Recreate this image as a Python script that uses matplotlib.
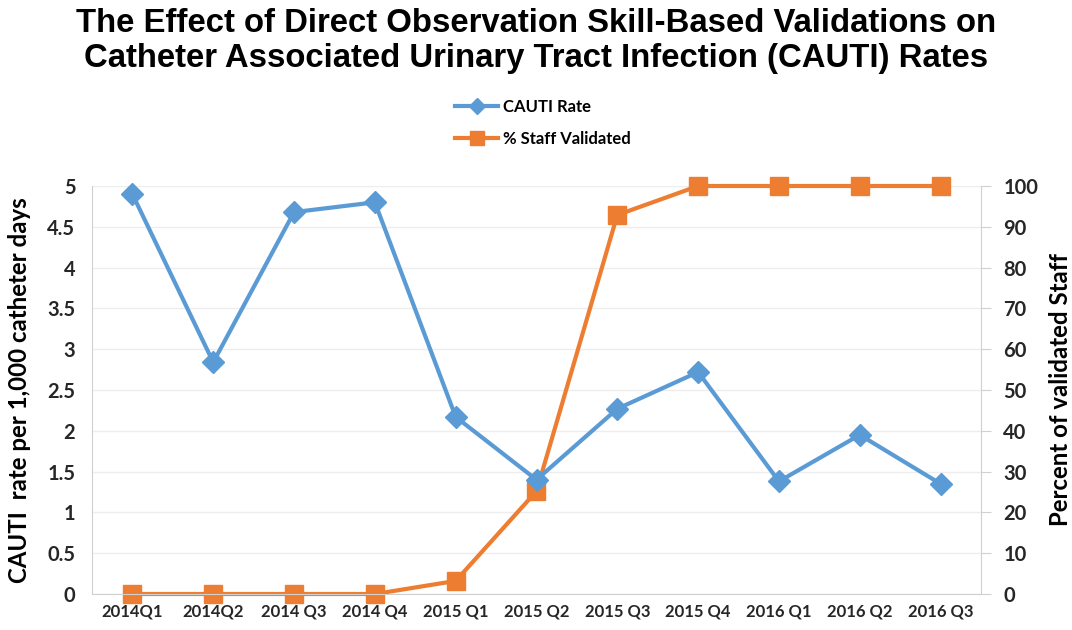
import matplotlib
matplotlib.use("Agg")
import matplotlib.pyplot as plt

# data
quarters = ["2014Q1", "2014Q2", "2014 Q3", "2014 Q4", "2015 Q1", "2015 Q2",
            "2015 Q3", "2015 Q4", "2016 Q1", "2016 Q2", "2016 Q3"]
cauti_rate = [4.9, 2.84, 4.68, 4.8, 2.17, 1.4, 2.27, 2.72, 1.38, 1.95, 1.35]
staff_validated = [0, 0, 0, 0, 3.2, 25.2, 92.9, 100, 100, 100, 100]

left_ticks = [0, 0.5, 1, 1.5, 2, 2.5, 3, 3.5, 4, 4.5, 5]
left_labels = ["0", "0.5", "1", "1.5", "2", "2.5", "3", "3.5", "4", "4.5", "5"]
right_ticks = list(range(0, 101, 10))

blue = "#5b9bd5"
orange = "#ed7d31"
grid_col = "#ededed"
txt = "#262626"
lato = "Lato"

fig = plt.figure(figsize=(10.72, 6.30), dpi=100)
ax = fig.add_axes([92 / 1072, 36 / 630, 889 / 1072, 408 / 630])
ax2 = ax.twinx()

x = list(range(len(quarters)))
l1, = ax.plot(x, cauti_rate, color=blue, lw=3, marker="D", ms=11,
              label="CAUTI Rate", zorder=3, clip_on=False)
l2, = ax2.plot(x, staff_validated, color=orange, lw=3, marker="s", ms=13.5,
               label="% Staff Validated", zorder=3, clip_on=False)
ax.set_zorder(ax2.get_zorder() + 1)
ax.patch.set_visible(False)

ax.set_xlim(-0.5, len(quarters) - 0.5)
ax.set_ylim(0, 5)
ax2.set_ylim(0, 100)
ax.set_yticks(left_ticks)
ax.set_yticklabels(left_labels)
ax2.set_yticks(right_ticks)
ax.set_xticks(x)
ax.set_xticklabels(quarters)

ax2.yaxis.grid(True, color=grid_col, lw=1)
ax2.set_axisbelow(True)

for a in (ax, ax2):
    for s in a.spines.values():
        s.set_color("#d0d0d0")
    a.spines["top"].set_visible(False)
ax.spines["right"].set_visible(False)
ax2.spines["left"].set_visible(False)
ax2.spines["bottom"].set_visible(False)

ax.tick_params(axis="y", length=0, pad=12, labelsize=14.5, labelcolor=txt)
ax.tick_params(axis="x", length=0, pad=7, labelsize=12, labelcolor=txt)
ax2.tick_params(axis="y", length=7, color="#d0d0d0", pad=9, labelsize=14.5,
                labelcolor=txt)
for lab in ax.get_yticklabels() + ax.get_xticklabels() + ax2.get_yticklabels():
    lab.set_fontfamily(lato)
    lab.set_fontweight("bold")

# axis titles placed by hand so both sit where the reference has them
fig.text(20 / 1072, ax.get_position().y0 + ax.get_position().height / 2,
         "CAUTI  rate per 1,000 catheter days", rotation=90, ha="center",
         va="center", fontsize=17.3, fontweight="bold", family=lato,
         color="black")
fig.text(1061 / 1072, ax.get_position().y0 + ax.get_position().height / 2,
         "Percent of validated Staff", rotation=90, ha="center", va="center",
         fontsize=17.3, fontweight="bold", family=lato, color="black")

fig.text(0.5, 1 - 41 / 630, "The Effect of Direct Observation Skill-Based Validations on\n"
         "Catheter Associated Urinary Tract Infection (CAUTI) Rates",
         ha="center", va="center", fontsize=23.7, fontweight="bold",
         family="Liberation Sans", linespacing=1.2)

leg = fig.legend(handles=[l1, l2], loc="center", bbox_to_anchor=(543 / 1072, 1 - 123 / 630),
                 ncol=1, frameon=False, handlelength=2.6, handletextpad=0.3,
                 labelspacing=1.0,
                 prop={"family": lato, "weight": "bold", "size": 12},
                 markerscale=0.75)

fig.savefig("out.png", dpi=100)
